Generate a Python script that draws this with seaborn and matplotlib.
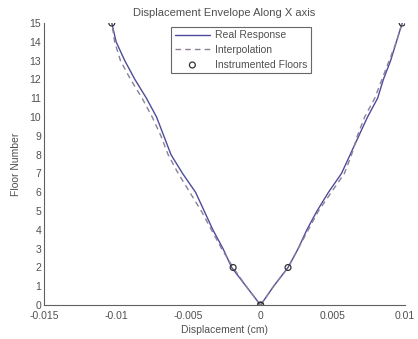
import matplotlib
matplotlib.use("Agg")
import matplotlib.pyplot as plt
import seaborn as sns
import pandas as pd

# Floor levels of the building
floors = list(range(16))

# Measured displacement envelope (cm), negative and positive side
real_neg = [0.0, -0.0010, -0.0020, -0.0026, -0.0033, -0.0039, -0.0045, -0.0054,
            -0.0062, -0.0067, -0.0072, -0.0079, -0.0087, -0.0094, -0.0100, -0.0103]
real_pos = [0.0, 0.0009, 0.0019, 0.0026, 0.0032, 0.0039, 0.0047, 0.0056,
            0.0062, 0.0068, 0.0074, 0.0081, 0.0085, 0.0090, 0.0094, 0.0098]

# Interpolated envelope from the instrumented floors
interp_neg = [0.0, -0.0010, -0.0019, -0.0027, -0.0034, -0.0041, -0.0049, -0.0057,
              -0.0064, -0.0069, -0.0075, -0.0082, -0.0090, -0.0097, -0.0101, -0.0103]
interp_pos = [0.0, 0.0009, 0.0019, 0.0026, 0.0033, 0.0040, 0.0049, 0.0058,
              0.0063, 0.0067, 0.0072, 0.0079, 0.0084, 0.0089, 0.0094, 0.0098]

# Instrumented floors and their recorded peaks (both sides of the envelope)
inst_floor = [15, 2, 0, 0, 2, 15]
inst_disp = [-0.0103, -0.0019, 0.0, 0.0, 0.0019, 0.0098]

xticks = [-0.015, -0.01, -0.005, 0, 0.005, 0.01]
xtick_labels = ["-0.015", "-0.01", "-0.005", "0", "0.005", "0.01"]

sns.set_style("white")
plt.rcParams["font.family"] = ["Liberation Sans", "DejaVu Sans"]
plt.rcParams["font.size"] = 7.5

text_col = "#505050"
solid_col = "#4c4c9c"
dash_col = "#8c8098"

fig = plt.figure(figsize=(4.18, 3.39), dpi=100)
ax = fig.add_axes([0.105, 0.100, 0.864, 0.832])

df = pd.DataFrame({
    "floor": floors * 4,
    "disp": real_neg + real_pos + interp_neg + interp_pos,
    "curve": ["rn"] * 16 + ["rp"] * 16 + ["in"] * 16 + ["ip"] * 16,
})

for key, col, dashed, lab in [("rn", solid_col, False, "Real Response"),
                              ("rp", solid_col, False, None),
                              ("in", dash_col, True, "Interpolation"),
                              ("ip", dash_col, True, None)]:
    sub = df[df["curve"] == key]
    sns.lineplot(data=sub, x="disp", y="floor", orient="y", sort=False,
                 color=col, linewidth=1.0, label=lab, ax=ax)
    if dashed:
        ax.lines[-1].set_dashes((4, 3))

sns.scatterplot(x=inst_disp, y=inst_floor, ax=ax, marker="o", s=18,
                facecolor="none", edgecolor="#333333", linewidth=0.9,
                label="Instrumented Floors", zorder=5)

ax.set_xlim(-0.015, 0.01)
ax.set_ylim(0, 15)
ax.set_xticks(xticks)
ax.set_xticklabels(xtick_labels)
ax.set_yticks(range(16))

ax.set_title("Displacement Envelope Along X axis", color=text_col, fontsize=8, pad=5)
ax.set_xlabel("Displacement (cm)", color=text_col, fontsize=7.5, labelpad=3)
ax.set_ylabel("Floor Number", color=text_col, fontsize=7.5, labelpad=6)

for side in ["top", "right"]:
    ax.spines[side].set_visible(False)
for side in ["left", "bottom"]:
    ax.spines[side].set_color("#606060")
    ax.spines[side].set_linewidth(0.8)

ax.tick_params(direction="in", length=3, width=0.8, colors="#606060",
               labelcolor=text_col, labelsize=7.5, pad=2)
ax.tick_params(axis="x", pad=4)

leg = ax.legend(loc="upper left", bbox_to_anchor=(0.352, 0.987), frameon=True,
                fancybox=False, edgecolor="#404040", fontsize=7.5,
                handlelength=3.4, borderpad=0.35, labelspacing=0.45,
                handletextpad=0.5, borderaxespad=0)
leg.get_frame().set_linewidth(0.8)
for t in leg.get_texts():
    t.set_color(text_col)

fig.savefig("out.png", dpi=100)
